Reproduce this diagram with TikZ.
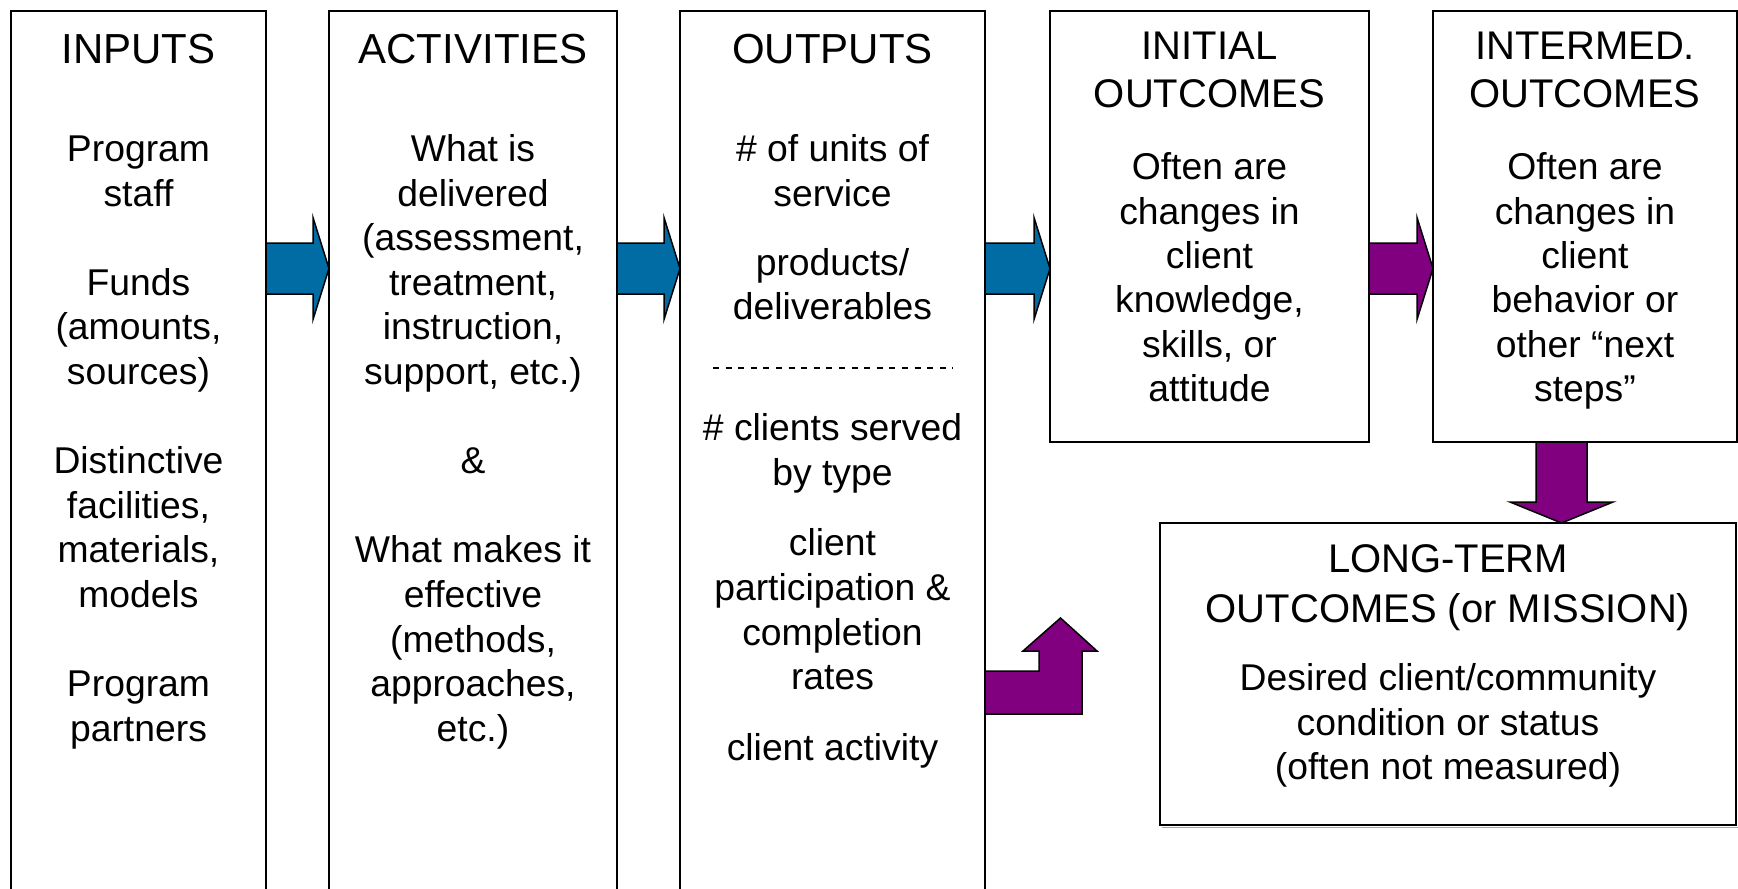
\documentclass[tikz,border=0pt]{standalone}
\usepackage{fontspec}
\setmainfont{Liberation Sans}
\usetikzlibrary{calc}
\definecolor{blueA}{RGB}{0,108,163}
\definecolor{purpA}{RGB}{128,0,128}
\newcommand\tl[4]{\node[txt] (#1) at (#2,#3) {#4};}
\newcommand\ttl[4]{\node[txt, titlebig] (#1) at (#2,#3) {#4};}
\newcommand\tts[4]{\node[txt, titlesmall] (#1) at (#2,#3) {#4};}
\newcommand\fatright[4]{%
  \draw[blockarrow, fill=#4]
    ($(#1.east |- #3)+(0,-25.5)$) -- ($(#2.west |- #3)+(-16,-25.5)$) --
    ($(#2.west |- #3)+(-16,-51)$) -- (#2.west |- #3) --
    ($(#2.west |- #3)+(-16,51)$) -- ($(#2.west |- #3)+(-16,25.5)$) --
    ($(#1.east |- #3)+(0,25.5)$) -- cycle;}
\begin{document}
\begin{tikzpicture}[x=1pt,y=-1pt,
  box/.style={draw=black, line width=1.5pt, fill=white, rectangle, inner sep=0pt, outer sep=0pt},
  txt/.style={anchor=base, inner sep=0pt, font=\fontsize{37.3pt}{44.6pt}\selectfont},
  titlebig/.style={font=\fontsize{42pt}{44.6pt}\selectfont},
  titlesmall/.style={font=\fontsize{40pt}{44.6pt}\selectfont},
  blockarrow/.style={draw=black, line width=1.5pt, line join=miter}]
\useasboundingbox (0,0) rectangle (1738,889);
\fill[white] (0,0) rectangle (1738,889);
% boxes
\node[box, minimum width=255pt, minimum height=900pt] (inputs) at (138.5,461) {};
\node[box, minimum width=288pt, minimum height=900pt] (activities) at (473,461) {};
\node[box, minimum width=305pt, minimum height=900pt] (outputs) at (832.5,461) {};
\node[box, minimum width=319pt, minimum height=431pt] (initial) at (1209.5,226.5) {};
\node[box, minimum width=304pt, minimum height=431pt] (intermed) at (1585,226.5) {};
\draw[gray!70, line width=1.5pt] (1162,827.5) -- (1738,827.5);
\node[box, minimum width=576pt, minimum height=302pt] (longterm) at (1448,674) {};
% arrow levels
\coordinate (lvl) at (0,268.5);
\coordinate (lvlB) at (0,692.5);
\coordinate (colD) at (1561.5,0);
% horizontal block arrows
\fatright{inputs}{activities}{lvl}{blueA}
\fatright{activities}{outputs}{lvl}{blueA}
\fatright{outputs}{initial}{lvl}{blueA}
\fatright{initial}{intermed}{lvl}{purpA}
% down arrow
\draw[blockarrow, fill=purpA]
  ($(intermed.south -| colD)+(-25.5,0)$) -- ($(intermed.south -| colD)+(25.5,0)$) --
  ($(longterm.north -| colD)+(25.5,-21)$) -- ($(longterm.north -| colD)+(51.5,-21)$) --
  (longterm.north -| colD) --
  ($(longterm.north -| colD)+(-51.5,-21)$) -- ($(longterm.north -| colD)+(-25.5,-21)$) -- cycle;
% bent arrow
\coordinate (bendtip) at (1060.5,618);
\draw[blockarrow, fill=purpA]
  ($(outputs.east |- lvlB)+(0,21.5)$) -- ($(bendtip |- lvlB)+(21.5,21.5)$) --
  ($(bendtip)+(21.5,33)$) -- ($(bendtip)+(36.5,33)$) -- (bendtip) --
  ($(bendtip)+(-37.5,33)$) -- ($(bendtip)+(-21.5,33)$) --
  ($(bendtip |- lvlB)+(-21.5,-21.5)$) -- ($(outputs.east |- lvlB)+(0,-21.5)$) -- cycle;
% dashed separator
\draw[line width=2.2pt, dash pattern=on 6pt off 6.6pt] (713,368) -- (953,368);
% INPUTS
\ttl{inT}{138.5}{63}{INPUTS}
\tl{in1}{138.5}{161.5}{Program}
\tl{in2}{138.5}{206}{staff}
\tl{in3}{138.5}{295}{Funds}
\tl{in4}{138.5}{339.7}{(amounts,}
\tl{in5}{138.5}{384.3}{sources)}
\tl{in6}{138.5}{473.5}{Distinctive}
\tl{in7}{138.5}{518}{facilities,}
\tl{in8}{138.5}{562.7}{materials,}
\tl{in9}{138.5}{607.3}{models}
\tl{in10}{138.5}{696.5}{Program}
\tl{in11}{138.5}{741}{partners}
% ACTIVITIES
\ttl{acT}{473}{63}{ACTIVITIES}
\tl{ac1}{473}{161.5}{What is}
\tl{ac2}{473}{206}{delivered}
\tl{ac3}{473}{250.5}{(assessment,}
\tl{ac4}{473}{295}{treatment,}
\tl{ac5}{473}{339.7}{instruction,}
\tl{ac6}{473}{384.3}{support, etc.)}
\tl{ac7}{473}{473.5}{\&}
\tl{ac8}{473}{562.7}{What makes it}
\tl{ac9}{473}{607.3}{effective}
\tl{ac10}{473}{652}{(methods,}
\tl{ac11}{473}{696.5}{approaches,}
\tl{ac12}{473}{741}{etc.)}
% OUTPUTS
\ttl{ouT}{832.5}{63}{OUTPUTS}
\tl{ou1}{832.5}{161.5}{\# of units of}
\tl{ou2}{832.5}{206}{service}
\tl{ou3}{832.5}{275.5}{products/}
\tl{ou4}{832.5}{319.5}{deliverables}
\tl{ou5}{832.5}{440.5}{\# clients served}
\tl{ou6}{832.5}{485.5}{by type}
\tl{ou7}{832.5}{555.5}{client}
\tl{ou8}{832.5}{600.5}{participation \&}
\tl{ou9}{832.5}{645.5}{completion}
\tl{ou10}{832.5}{689.5}{rates}
\tl{ou11}{832.5}{760.5}{client activity}
% INITIAL OUTCOMES
\tts{niT1}{1209.5}{59.5}{INITIAL}
\tts{niT2}{1209.5}{107.5}{OUTCOMES}
\tl{ni1}{1209.5}{179.5}{Often are}
\tl{ni2}{1209.5}{224}{changes in}
\tl{ni3}{1209.5}{268.3}{client}
\tl{ni4}{1209.5}{312.7}{knowledge,}
\tl{ni5}{1209.5}{357}{skills, or}
\tl{ni6}{1209.5}{401.5}{attitude}
% INTERMED OUTCOMES
\tts{imT1}{1585}{59.5}{INTERMED.}
\tts{imT2}{1585}{107.5}{OUTCOMES}
\tl{im1}{1585}{179.5}{Often are}
\tl{im2}{1585}{224}{changes in}
\tl{im3}{1585}{268.3}{client}
\tl{im4}{1585}{312.7}{behavior or}
\tl{im5}{1585}{357}{other “next}
\tl{im6}{1585}{401.5}{steps”}
% LONG-TERM
\tts{ltT1}{1448}{572.5}{LONG-TERM}
\tts{ltT2}{1448}{622.5}{OUTCOMES (or MISSION)}
\tl{lt1}{1448}{690.5}{Desired client/community}
\tl{lt2}{1448}{735.5}{condition or status}
\tl{lt3}{1448}{779.5}{(often not measured)}
\end{tikzpicture}
\end{document}
